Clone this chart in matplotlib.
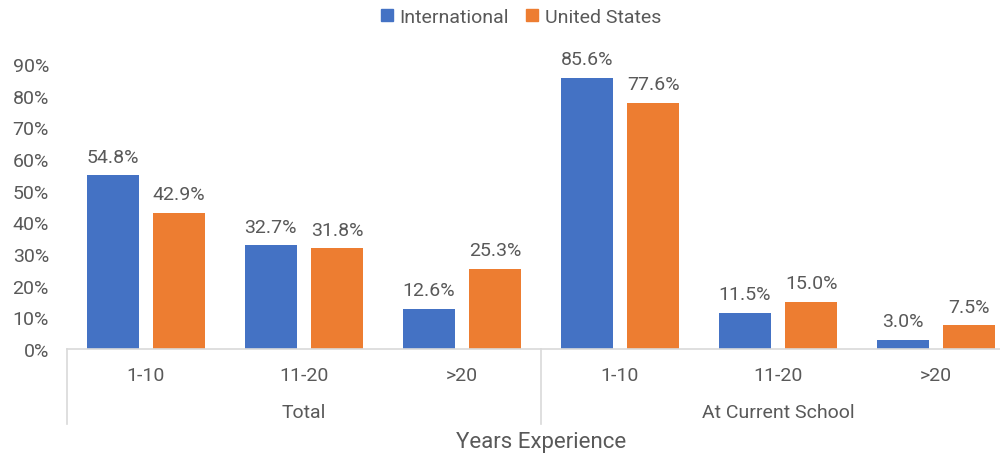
import matplotlib
matplotlib.use("Agg")
import matplotlib.pyplot as plt
import matplotlib.transforms as mtransforms
from matplotlib.patches import Patch
from matplotlib.ticker import FuncFormatter

plt.rcParams['font.family'] = ['Roboto', 'DejaVu Sans']

## data
groups = ["Total", "At Current School"]
subcats = ["1-10", "11-20", ">20", "1-10", "11-20", ">20"]
international = [54.8, 32.7, 12.6, 85.6, 11.5, 3.0]
united_states = [42.9, 31.8, 25.3, 77.6, 15.0, 7.5]
series_names = ["International", "United States"]
yticks = [0, 10, 20, 30, 40, 50, 60, 70, 80, 90]

BLUE = "#4472C4"
ORANGE = "#ED7D31"
TEXT = "#595959"
LINE = "#D9D9D9"
FS = 14

fig = plt.figure(figsize=(10, 4.6), dpi=100)
# axes runs a bit past the right edge, like the cropped original
ax = fig.add_axes([0.067, 0.239, 0.948, 0.62])

x = list(range(len(subcats)))
width = 0.33
off = 0.21
b1 = ax.bar([i - off for i in x], international, width, color=BLUE)
b2 = ax.bar([i + off for i in x], united_states, width, color=ORANGE)

for bars, vals in ((b1, international), (b2, united_states)):
    for rect, v in zip(bars, vals):
        ax.annotate("%.1f%%" % v, (rect.get_x() + rect.get_width() / 2, v),
                    xytext=(0, 7), textcoords="offset points",
                    ha="center", va="bottom", fontsize=FS, color=TEXT)

ax.set_xlim(-0.5, len(subcats) - 0.5)
ax.set_ylim(0, 90)
ax.set_yticks(yticks)
ax.yaxis.set_major_formatter(FuncFormatter(lambda v, p: "%d%%" % v))
ax.tick_params(axis="y", length=0, pad=13, labelsize=FS, labelcolor=TEXT)

for s in ("top", "right", "left"):
    ax.spines[s].set_visible(False)
ax.spines["bottom"].set_color(LINE)
ax.spines["bottom"].set_linewidth(1.2)

# two level category axis
ax.set_xticks(x)
ax.set_xticklabels([])
ax.tick_params(axis="x", length=0)
trans = mtransforms.blended_transform_factory(ax.transData, ax.transAxes)
for i, lab in enumerate(subcats):
    ax.text(i, -0.091, lab, transform=trans, ha="center", va="center",
            fontsize=FS, color=TEXT)
for g, name in enumerate(groups):
    ax.text(g * 3 + 1, -0.221, name, transform=trans, ha="center", va="center",
            fontsize=FS, color=TEXT)
for sep in (-0.5, 2.5, 5.5):
    ax.plot([sep, sep], [0, -0.263], transform=trans, color=LINE,
            linewidth=1.2, clip_on=False)

fig.text(0.541, 1 - 443 / 460, "Years Experience", ha="center", va="center",
         fontsize=16, color=TEXT)

handles = [Patch(color=BLUE), Patch(color=ORANGE)]
fig.legend(handles, series_names, loc="center", bbox_to_anchor=(0.521, 0.961),
           ncol=2, frameon=False, fontsize=FS, labelcolor=TEXT,
           handlelength=0.6, handleheight=0.6, handletextpad=0.35,
           columnspacing=0.9)

plt.savefig("out.png", dpi=100)
